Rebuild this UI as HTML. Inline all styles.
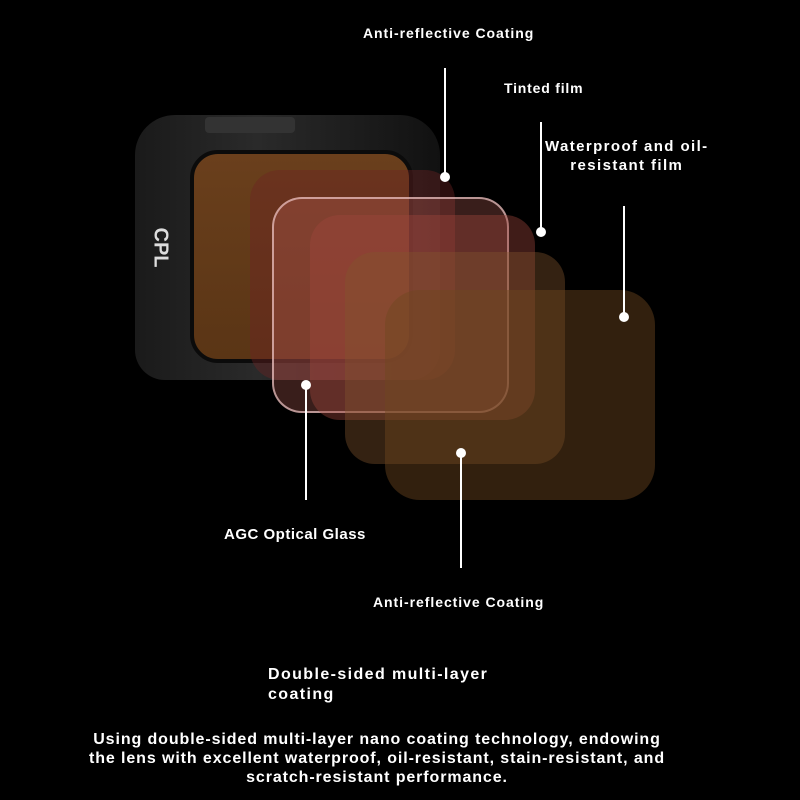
<!DOCTYPE html><html><head><style>
body{margin:0;width:800px;height:800px;background:#000;position:relative;overflow:hidden;font-family:"Liberation Sans",sans-serif;color:#fff;font-weight:bold}
.a{position:absolute}
.l{position:absolute;width:2px;background:#fff}
.d{position:absolute;width:10px;height:10px;border-radius:50%;background:#fff}
.t{position:absolute;white-space:nowrap;font-size:14px}
</style></head><body>
<div class="a" style="left:135px;top:115px;width:305px;height:265px;border-radius:40px 40px 30px 30px;background:linear-gradient(90deg,#1a1a1a,#2a2a2a 40%,#111);"></div>
<div class="a" style="left:205px;top:117px;width:90px;height:16px;background:#333;border-radius:4px"></div>
<div class="a" style="left:190px;top:150px;width:215px;height:205px;border-radius:28px;background:linear-gradient(#6a3f1c,#5a3515);border:4px solid #0b0b0b"></div>
<div class="t" style="left:140px;top:236px;font-size:20px;transform:rotate(90deg);color:#ddd">CPL</div>
<div class="a" style="left:250px;top:170px;width:205px;height:210px;border-radius:30px;background:rgba(110,35,35,0.4)"></div>
<div class="a" style="left:272px;top:197px;width:233px;height:212px;border-radius:30px;background:rgba(190,100,90,0.3);border:2px solid rgba(240,200,200,0.7)"></div>
<div class="a" style="left:310px;top:215px;width:225px;height:205px;border-radius:30px;background:rgba(160,70,60,0.4)"></div>
<div class="a" style="left:345px;top:252px;width:220px;height:212px;border-radius:30px;background:rgba(130,85,45,0.4)"></div>
<div class="a" style="left:385px;top:290px;width:270px;height:210px;border-radius:35px;background:rgba(110,70,30,0.45)"></div>
<div class="l" style="left:444px;top:68px;height:110px"></div><div class="d" style="left:440px;top:172px"></div>
<div class="l" style="left:540px;top:122px;height:110px"></div><div class="d" style="left:536px;top:227px"></div>
<div class="l" style="left:623px;top:206px;height:111px"></div><div class="d" style="left:619px;top:312px"></div>
<div class="l" style="left:305px;top:385px;height:115px"></div><div class="d" style="left:301px;top:380px"></div>
<div class="l" style="left:460px;top:453px;height:115px"></div><div class="d" style="left:456px;top:448px"></div>
<div class="t" style="left:363px;top:25px;letter-spacing:0.95px">Anti-reflective Coating</div>
<div class="t" style="left:504px;top:80px;letter-spacing:0.8px">Tinted film</div>
<div class="t" style="left:545px;top:137px;font-size:15px;text-align:center;line-height:19px;letter-spacing:1.4px">Waterproof and oil-<br>resistant film</div>
<div class="t" style="left:224px;top:526px;font-size:15px;letter-spacing:0.5px">AGC Optical Glass</div>
<div class="t" style="left:373px;top:594px;letter-spacing:0.95px">Anti-reflective Coating</div>
<div class="t" style="left:268px;top:665px;font-size:16px;line-height:20px;letter-spacing:1.4px">Double-sided multi-layer<br>coating</div>
<div class="t" style="left:-23px;width:800px;top:730px;font-size:16px;text-align:center;line-height:19px;letter-spacing:0.9px">Using double-sided multi-layer nano coating technology, endowing<br>the lens with excellent waterproof, oil-resistant, stain-resistant, and<br>scratch-resistant performance.</div>
</body></html>
